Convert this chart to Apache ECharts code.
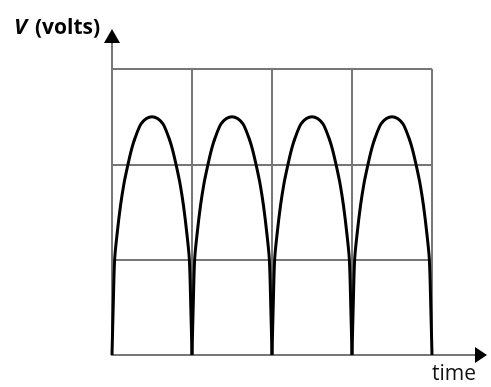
<!DOCTYPE html>
<html>
<head>
<meta charset="utf-8">
<script src="https://cdn.jsdelivr.net/npm/echarts@6/dist/echarts.min.js"></script>
<style>
  html, body { margin: 0; padding: 0; background: #fff; }
  #chart { width: 491px; height: 387px; }
</style>
</head>
<body>
<div id="chart"></div>
<script>
// start of each cycle on the time axis (grid divisions)
var cycleStart = [0, 1, 2, 3];
// one hump of the rectified wave: phase within a cycle and voltage
var phase = [0, 0.015, 0.033, 0.065, 0.107, 0.15, 0.2, 0.245, 0.29, 0.36, 0.43, 0.5,
             0.57, 0.64, 0.71, 0.755, 0.8, 0.85, 0.893, 0.935, 0.967, 0.985, 1];
var volts = [0, 0.5, 1.0, 1.28, 1.57, 1.8, 2.0, 2.16, 2.28, 2.42, 2.48, 2.5,
             2.48, 2.42, 2.28, 2.16, 2.0, 1.8, 1.57, 1.28, 1.0, 0.5, 0];

var chart = echarts.init(document.getElementById('chart'));

var series = [];
cycleStart.forEach(function (c) {
  var pts = [];
  for (var i = 0; i < phase.length; i++) {
    pts.push([c + phase[i], volts[i]]);
  }
  series.push({
    type: 'line',
    xAxisIndex: 0,
    yAxisIndex: 0,
    data: pts,
    smooth: 0.3,
    showSymbol: false,
    silent: true,
    lineStyle: { color: '#000', width: 3 }
  });
});

var gridLine = { show: true, lineStyle: { color: '#777', width: 2 } };
var hidden = { show: false };

// axis drawn in two parts: grey line, then black arrow head only (line width 0)
function axisPart(grid, line, arrowSize) {
  return {
    gridIndex: grid, type: 'value', min: 0, max: 1,
    axisLine: {
      show: true,
      symbol: arrowSize ? ['none', 'triangle'] : 'none',
      symbolSize: arrowSize || 0,
      lineStyle: line
    },
    axisTick: hidden, axisLabel: hidden, splitLine: hidden
  };
}

var option = {
  animation: false,
  title: [{
    left: 14,
    top: 17,
    padding: 0,
    text: '{v|V}{b|(volts)}',
    textStyle: {
      rich: {
        v: { fontFamily: 'Open Sans', fontSize: 22, fontWeight: 'bold', fontStyle: 'italic', color: '#000', width: 21 },
        b: { fontFamily: 'Open Sans', fontSize: 21, fontWeight: 'bold', color: '#000' }
      }
    }
  }, {
    left: 432,
    top: 364,
    padding: 0,
    text: 'time',
    textStyle: { fontFamily: 'Open Sans', fontSize: 21, fontWeight: 'normal', color: '#111' }
  }],
  grid: [
    { left: 112, right: 59, top: 69, bottom: 32 },
    { left: 112, right: 7, top: 32, bottom: 32 },
    { left: 112, right: 10, top: 36, bottom: 32 }
  ],
  xAxis: [{
    gridIndex: 0, type: 'value', min: 0, max: 4, interval: 1,
    axisLine: hidden, axisTick: hidden, axisLabel: hidden,
    splitLine: gridLine
  },
    axisPart(1, { color: '#777', width: 2 }),
    axisPart(2, { color: '#000', width: 0 }, [16, 12])
  ],
  yAxis: [{
    gridIndex: 0, type: 'value', min: 0, max: 3, interval: 1,
    axisLine: hidden, axisTick: hidden, axisLabel: hidden,
    splitLine: gridLine
  },
    axisPart(1, { color: '#777', width: 2 }),
    axisPart(2, { color: '#000', width: 0 }, [16, 14])
  ],
  series: series
};

chart.setOption(option);
</script>
</body>
</html>
